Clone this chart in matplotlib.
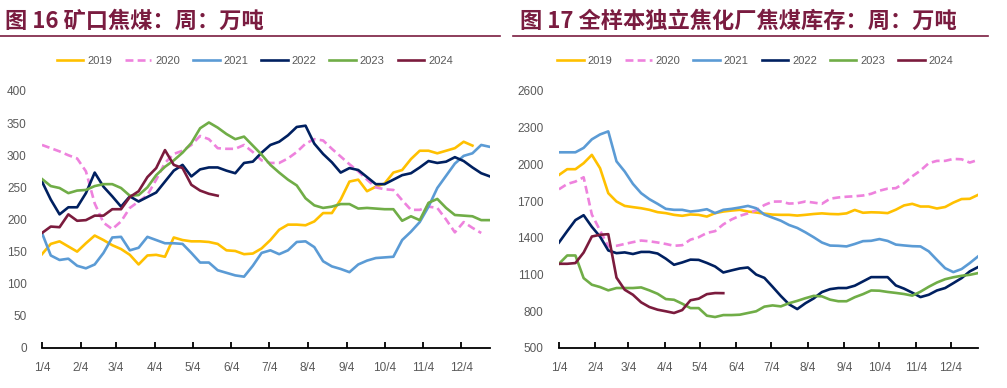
import matplotlib
matplotlib.use("Agg")
import matplotlib.pyplot as plt
from matplotlib.lines import Line2D
import numpy as np

plt.rcParams['font.family'] = ['Liberation Sans', 'Noto Sans CJK SC', 'DejaVu Sans']

# week k sits at day-of-year 4 + 7k (chart uses a common year)
years = ['2019', '2020', '2021', '2022', '2023', '2024']
colors = ['#FFC000', '#EE82DD', '#5B9BD5', '#002060', '#70AD47', '#7B1B3D']

tick_days = [4, 35, 63, 94, 124, 155, 185, 216, 247, 277, 308, 338]
tick_labels = ['1/4', '2/4', '3/4', '4/4', '5/4', '6/4', '7/4', '8/4', '9/4', '10/4', '11/4', '12/4']

# 图16 矿口焦煤
mine_2019 = [146, 162, 166, 158, 150, 163, 175, 168, 160, 154, 145, 130, 144, 145, 142, 172, 168, 166, 166, 165,
             162, 152, 151, 146, 147, 155, 168, 184, 192, 192, 191, 197, 210, 210, 231, 259, 262, 244, 251, 256,
             273, 277, 294, 307, 307, 303, 307, 311, 321, 315]
mine_2020 = [316, 311, 306, 300, 295, 275, 225, 195, 185, 197, 218, 228, 238, 262, 288, 302, 307, 316, 330, 325,
             311, 310, 310, 316, 305, 292, 288, 288, 295, 305, 318, 325, 323, 310, 298, 286, 275, 262, 250, 247,
             246, 230, 215, 215, 220, 218, 200, 180, 196, 187, 179]
mine_2021 = [179, 144, 137, 139, 128, 124, 130, 148, 172, 173, 152, 156, 173, 168, 163, 163, 162, 148, 133, 133,
             121, 117, 113, 111, 128, 148, 152, 146, 152, 165, 166, 157, 135, 127, 123, 118, 130, 136, 140, 141,
             142, 168, 181, 196, 220, 249, 268, 287, 299, 303, 316, 313]
mine_2022 = [259, 231, 208, 219, 219, 241, 273, 251, 236, 220, 236, 228, 235, 242, 259, 276, 285, 267, 278, 281,
             281, 276, 272, 288, 290, 304, 316, 321, 331, 344, 346, 318, 302, 289, 273, 280, 277, 266, 255, 255,
             262, 269, 272, 281, 291, 288, 290, 297, 291, 281, 272, 267]
mine_2023 = [263, 252, 249, 241, 245, 246, 252, 255, 255, 249, 237, 238, 250, 269, 282, 292, 304, 319, 342, 351,
             343, 333, 325, 329, 315, 301, 285, 273, 262, 253, 233, 222, 218, 220, 224, 224, 217, 218, 217, 216,
             216, 198, 205, 199, 226, 232, 218, 207, 206, 205, 199, 199]
mine_2024 = [179, 189, 188, 208, 198, 199, 206, 206, 216, 216, 235, 244, 266, 280, 308, 285, 280, 254, 245, 240,
             237]

# 图17 全样本独立焦化厂焦煤库存
stock_2019 = [1914, 1961, 1961, 2010, 2078, 1969, 1765, 1697, 1661, 1651, 1642, 1629, 1610, 1602, 1588, 1580,
              1591, 1588, 1574, 1602, 1615, 1623, 1629, 1615, 1607, 1598, 1590, 1588, 1588, 1582, 1588, 1595,
              1600, 1595, 1593, 1600, 1628, 1605, 1609, 1607, 1602, 1630, 1665, 1678, 1656, 1656, 1640, 1652,
              1688, 1717, 1719, 1751]
stock_2020 = [1797, 1840, 1860, 1895, 1590, 1460, 1330, 1335, 1350, 1365, 1378, 1372, 1362, 1350, 1335, 1340,
              1385, 1405, 1440, 1455, 1510, 1550, 1580, 1600, 1625, 1668, 1696, 1697, 1680, 1683, 1697, 1688,
              1678, 1720, 1730, 1736, 1740, 1746, 1760, 1785, 1802, 1806, 1846, 1903, 1950, 2010, 2029, 2029,
              2045, 2042, 2015, 2037]
stock_2021 = [2099, 2099, 2099, 2135, 2205, 2245, 2270, 2025, 1942, 1841, 1765, 1716, 1678, 1637, 1629, 1629,
              1615, 1622, 1634, 1602, 1629, 1637, 1648, 1661, 1642, 1590, 1565, 1540, 1505, 1481, 1445, 1405,
              1362, 1337, 1335, 1330, 1350, 1373, 1376, 1390, 1375, 1345, 1338, 1332, 1330, 1290, 1220, 1152,
              1120, 1145, 1194, 1248]
stock_2022 = [1362, 1455, 1545, 1585, 1490, 1410, 1297, 1275, 1281, 1268, 1285, 1285, 1272, 1230, 1180, 1199,
              1222, 1220, 1195, 1166, 1117, 1134, 1150, 1158, 1100, 1073, 1000, 925, 857, 818, 866, 905, 957,
              981, 990, 990, 1009, 1044, 1079, 1079, 1079, 1011, 985, 952, 916, 935, 970, 990, 1030, 1071, 1126,
              1161]
stock_2023 = [1188, 1256, 1256, 1071, 1017, 998, 971, 990, 990, 990, 995, 971, 943, 900, 894, 862, 826, 826,
              764, 753, 769, 769, 772, 786, 800, 838, 848, 840, 866, 885, 907, 926, 922, 895, 882, 882, 915, 940,
              970, 968, 958, 950, 941, 928, 960, 1000, 1035, 1062, 1078, 1090, 1098, 1112]
stock_2024 = [1188, 1188, 1194, 1280, 1411, 1425, 1430, 1075, 976, 935, 873, 835, 813, 800, 786, 810, 890, 903,
              940, 949, 948]

title_color = '#7A1C40'
tick_color = '#595959'


def draw_panel(ax, series, ylim, yticks):
    for name, vals, c in zip(years, series, colors):
        x = 4 + 7 * np.arange(len(vals))
        if name == '2020':
            ax.plot(x, vals, color=c, lw=1.9, dashes=(3, 1.6), label=name)
        else:
            ax.plot(x, vals, color=c, lw=1.9, label=name)
    ax.set_xlim(4, 361)
    ax.set_ylim(*ylim)
    ax.set_yticks(yticks)
    ax.set_xticks(tick_days)
    ax.set_xticklabels(tick_labels)
    for s in ['top', 'right', 'left']:
        ax.spines[s].set_visible(False)
    ax.spines['bottom'].set_linewidth(1.3)
    ax.spines['bottom'].set_color('black')
    ax.tick_params(axis='x', direction='in', length=4, width=1.3, pad=10, labelsize=8.5, labelcolor=tick_color)
    ax.tick_params(axis='y', length=0, pad=11, labelsize=8.5, labelcolor=tick_color)


fig = plt.figure(figsize=(10.07, 3.88), dpi=100)
ax1 = fig.add_axes([0.0417, 0.1031, 0.4449, 0.6624])
ax2 = fig.add_axes([0.5551, 0.1031, 0.4161, 0.6624])

draw_panel(ax1, [mine_2019, mine_2020, mine_2021, mine_2022, mine_2023, mine_2024], (0, 400), range(0, 401, 50))
draw_panel(ax2, [stock_2019, stock_2020, stock_2021, stock_2022, stock_2023, stock_2024], (500, 2600),
           range(500, 2601, 300))

title_font = ['Noto Sans CJK SC', 'DejaVu Sans']
fig.text(0.005, 0.945, '图 16 矿口焦煤：周：万吨', family=title_font, fontsize=16, fontweight='bold',
         color=title_color, va='center', ha='left')
fig.text(0.516, 0.945, '图 17 全样本独立焦化厂焦煤库存：周：万吨', family=title_font, fontsize=16,
         fontweight='bold', color=title_color, va='center', ha='left')
fig.add_artist(Line2D([0.0, 0.4965], [0.907, 0.907], color=title_color, lw=1.2))
fig.add_artist(Line2D([0.5094, 0.981], [0.907, 0.907], color=title_color, lw=1.2))

for ax, cx in [(ax1, 0.253), (ax2, 0.75)]:
    h, l = ax.get_legend_handles_labels()
    fig.legend(h, l, loc='center', bbox_to_anchor=(cx, 0.843), ncol=6, frameon=False, fontsize=8,
               handlelength=2.4, handletextpad=0.35, columnspacing=1.15, labelcolor=tick_color)

fig.savefig('out.png', dpi=100)
